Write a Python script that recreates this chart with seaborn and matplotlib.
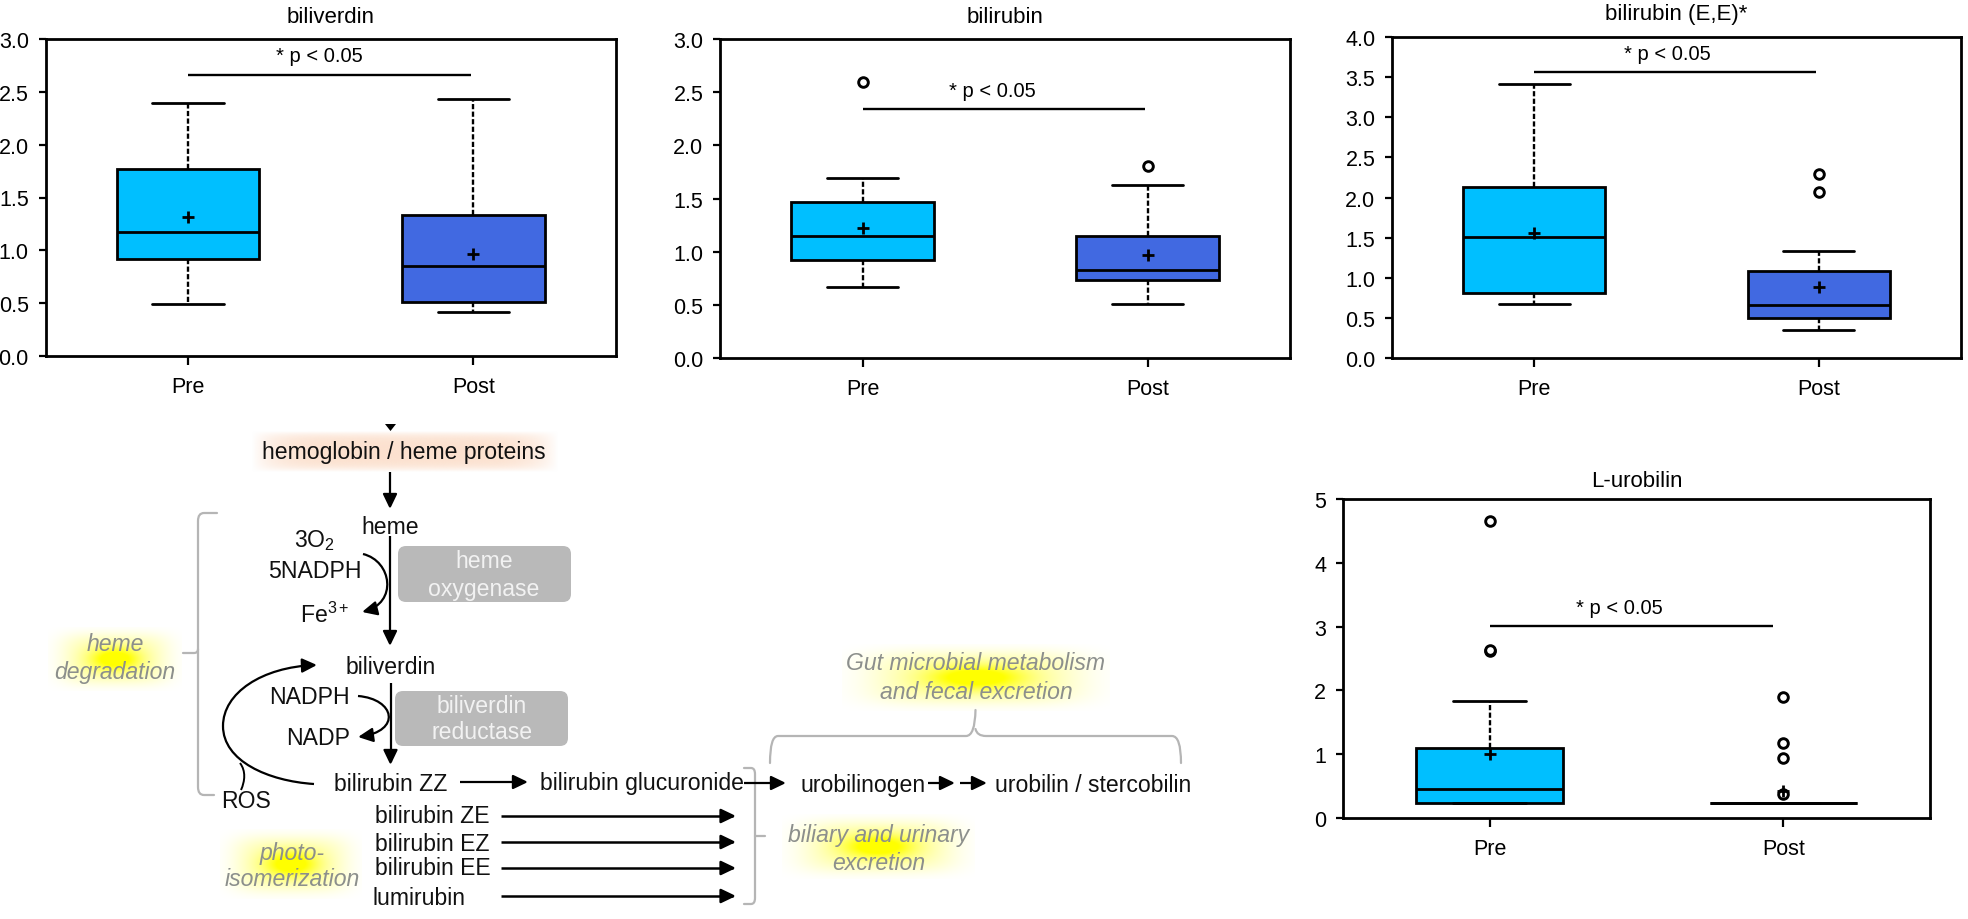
import numpy as np
import pandas as pd
import matplotlib
matplotlib.use("Agg")
import matplotlib.pyplot as plt
from matplotlib.patches import FancyArrowPatch, FancyBboxPatch, PathPatch, Polygon
from matplotlib.path import Path
import seaborn as sns

# ---------- data ----------
CATEGORIES = ["Pre", "Post"]
COLORS = ["#00bfff", "#4169e1"]

# low whisker, Q1, median, Q3, high whisker
biliverdin_pre = [0.49, 0.915, 1.17, 1.765, 2.39]
biliverdin_post = [0.42, 0.515, 0.85, 1.33, 2.43]
biliverdin_means = [1.32, 0.965]
biliverdin_out_pre = []
biliverdin_out_post = []

bilirubin_pre = [0.665, 0.92, 1.145, 1.47, 1.695]
bilirubin_post = [0.51, 0.73, 0.825, 1.15, 1.63]
bilirubin_means = [1.225, 0.965]
bilirubin_out_pre = [2.60]
bilirubin_out_post = [1.81]

bilirubin_ee_pre = [0.67, 0.805, 1.51, 2.13, 3.42]
bilirubin_ee_post = [0.345, 0.50, 0.66, 1.09, 1.335]
bilirubin_ee_means = [1.56, 0.89]
bilirubin_ee_out_pre = []
bilirubin_ee_out_post = [2.07, 2.29]

urobilin_pre = [0.235, 0.235, 0.45, 1.09, 1.835]
urobilin_post = [0.235, 0.235, 0.235, 0.235, 0.235]
urobilin_means = [1.01, 0.43]
urobilin_out_pre = [2.62, 2.64, 4.65]
urobilin_out_post = [0.37, 0.945, 1.18, 1.89]

TITLES = ["biliverdin", "bilirubin", "bilirubin (E,E)*", "L-urobilin"]
P_LABEL = "* p < 0.05"
YTICKS_05 = [0.0, 0.5, 1.0, 1.5, 2.0, 2.5, 3.0]
YTICKS_EE = [0.0, 0.5, 1.0, 1.5, 2.0, 2.5, 3.0, 3.5, 4.0]
YTICKS_URO = [0, 1, 2, 3, 4, 5]
BAR_HEIGHTS = [2.655, 2.345, 3.565, 3.015]

# ---------- style ----------
W, H = 1968, 920
sns.set_theme(style="ticks", rc={"axes.linewidth": 2.0})
plt.rcParams["font.family"] = ["Liberation Sans", "DejaVu Sans"]
plt.rcParams["mathtext.fontset"] = "custom"
plt.rcParams["mathtext.rm"] = "Liberation Sans"
plt.rcParams["mathtext.it"] = "Liberation Sans:italic"

fig = plt.figure(figsize=(W / 100, H / 100), dpi=100, facecolor="white")


def add_axes_px(left, right, top, bottom):
    return fig.add_axes([left / W, 1 - bottom / H, (right - left) / W, (bottom - top) / H])


def draw_panel(ax, pre, post, means, out_pre, out_post, title, yticks, ymax, bar_y,
               bar_x, label_x, label_y, title_pad):
    df = pd.DataFrame({
        "group": [CATEGORIES[0]] * len(pre) + [CATEGORIES[1]] * len(post),
        "value": list(pre) + list(post),
    })
    sns.boxplot(
        data=df, x="group", y="value", hue="group", order=CATEGORIES, hue_order=CATEGORIES,
        palette=COLORS, width=0.5, whis=(0, 100), dodge=False, legend=False, saturation=1,
        linecolor="black", linewidth=1.9, showfliers=False, ax=ax,
        whiskerprops={"linestyle": (0, (2.2, 1.0)), "linewidth": 1.7},
        capprops={"linewidth": 2.0},
        medianprops={"linewidth": 2.0, "color": "black"},
        boxprops={"linewidth": 2.0},
    )
    # mean markers
    sns.scatterplot(x=[0, 1], y=means, marker="+", s=85, color="black", linewidth=2.0,
                    ax=ax, zorder=6, legend=False)
    # outliers
    ox = [0] * len(out_pre) + [1] * len(out_post)
    oy = list(out_pre) + list(out_post)
    if oy:
        sns.scatterplot(x=ox, y=oy, marker="o", s=48, facecolor="white", edgecolor="black",
                        linewidth=2.1, ax=ax, zorder=5, legend=False)
    ax.plot(bar_x, [bar_y, bar_y], color="black", lw=1.7, solid_capstyle="butt", zorder=4)
    ax.text(label_x, label_y, P_LABEL, ha="center", va="center", fontsize=14.5, color="black")
    ax.set_xlim(-0.5, 1.5)
    ax.set_ylim(0, ymax)
    ax.set_yticks(yticks)
    if isinstance(yticks[1], float):
        ax.set_yticklabels([f"{v:.1f}" for v in yticks])
    ax.set_xlabel("")
    ax.set_ylabel("")
    ax.set_title(title, fontsize=16, color="black", pad=title_pad)
    ax.tick_params(axis="y", length=5, width=1.6, pad=7, labelsize=15.5, colors="black")
    ax.tick_params(axis="x", length=6.5, width=1.6, pad=8, labelsize=15.5, colors="black")
    for s in ax.spines.values():
        s.set_visible(True)
        s.set_linewidth(2.0)
        s.set_color("black")


ax1 = add_axes_px(45.5, 616, 40, 357)
draw_panel(ax1, biliverdin_pre, biliverdin_post, biliverdin_means, biliverdin_out_pre,
           biliverdin_out_post, TITLES[0], YTICKS_05, 3.0, BAR_HEIGHTS[0], [0, 0.99], 0.46, 2.84, 12)
ax2 = add_axes_px(720, 1290, 40, 359)
draw_panel(ax2, bilirubin_pre, bilirubin_post, bilirubin_means, bilirubin_out_pre,
           bilirubin_out_post, TITLES[1], YTICKS_05, 3.0, BAR_HEIGHTS[1], [0, 0.99], 0.455, 2.52, 12)
ax3 = add_axes_px(1392, 1961, 38, 359)
draw_panel(ax3, bilirubin_ee_pre, bilirubin_ee_post, bilirubin_ee_means, bilirubin_ee_out_pre,
           bilirubin_ee_out_post, TITLES[2], YTICKS_EE, 4.0, BAR_HEIGHTS[2], [0, 0.99], 0.467, 3.80, 13)
ax4 = add_axes_px(1343, 1930, 500, 819)
draw_panel(ax4, urobilin_pre, urobilin_post, urobilin_means, urobilin_out_pre,
           urobilin_out_post, TITLES[3], YTICKS_URO, 5.0, BAR_HEIGHTS[3], [0, 0.965], 0.44, 3.3, 9)

# ---------- pathway diagram drawn in an overlay in pixel space ----------
ov = fig.add_axes([0, 0, 1, 1], facecolor="none", zorder=-1)
ov.set_xlim(0, W)
ov.set_ylim(H, 0)
ov.axis("off")


def glow(x0, x1, y0, y1, rgb, core=1.0, flat=False):
    yy, xx = np.mgrid[-1:1:120j, -1:1:200j]
    if flat:
        a = np.clip((1 - np.abs(xx) ** 6), 0, 1) * np.clip((1 - np.abs(yy) ** 4), 0, 1) * core
    else:
        r2 = xx ** 2 + yy ** 2
        a = core * (0.95 * np.exp(-r2 / 0.13) + 0.32 * np.exp(-(xx ** 4 + yy ** 4) / 0.4))
        a = np.clip(a, 0, 1)
    img = np.zeros(a.shape + (4,))
    img[..., :3] = matplotlib.colors.to_rgb(rgb)
    img[..., 3] = a
    ov.imshow(img, extent=(x0, x1, y1, y0), aspect="auto", zorder=0, interpolation="bilinear")


glow(251, 559, 432, 473, "#fce0cd", core=0.95, flat=True)
glow(48, 182, 628, 692, "#ffff00")
glow(220, 362, 830, 900, "#ffff00")
glow(842, 1110, 645, 712, "#ffff00")
glow(782, 975, 815, 880, "#ffff00")
ov.set_xlim(0, W)
ov.set_ylim(H, 0)

GREY_TXT = "#8c8f8c"
BLK = "#111111"
FS = 16.6
for x, y, s in [
    (404, 453, "hemoglobin / heme proteins"), (390.5, 528, "heme"), (315, 541, "3O$_2$"),
    (315, 572, "5NADPH"), (325, 615, "Fe$^{3+}$"), (391, 668, "biliverdin"),
    (309, 698, "NADPH"), (318, 739, "NADP"), (391, 785, "bilirubin ZZ"),
    (642, 784, "bilirubin glucuronide"), (246, 802, "ROS"), (863, 786, "urobilinogen"),
    (1093, 786, "urobilin / stercobilin"),
]:
    ov.text(x, y, s, fontsize=FS, color=BLK, ha="center", va="center", zorder=4)
for x, y, s in [(375, 817, "bilirubin ZE"), (375, 845, "bilirubin EZ"),
                (375, 869, "bilirubin EE"), (373, 899, "lumirubin")]:
    ov.text(x, y, s, fontsize=FS, color=BLK, ha="left", va="center", zorder=4)
for x, y, s in [
    (115, 645, "heme"), (115, 673, "degradation"), (292, 854, "photo-"),
    (292, 880, "isomerization"), (976, 664, "Gut microbial metabolism"),
    (976, 693, "and fecal excretion"), (879, 836, "biliary and urinary"), (879, 864, "excretion"),
]:
    ov.text(x, y, s, fontsize=FS, color=GREY_TXT, style="italic", ha="center", va="center", zorder=4)

# enzyme boxes
for x0, x1, y0, y1, lines in [
    (398, 571, 547, 603, [(484, 562, "heme"), (484, 590, "oxygenase")]),
    (395, 568, 692, 747, [(482, 707, "biliverdin"), (482, 733, "reductase")]),
]:
    ov.add_patch(FancyBboxPatch((x0 + 6, y0 + 6), x1 - x0 - 12, y1 - y0 - 12,
                                boxstyle="round,pad=6,rounding_size=8", fc="#b9b9b9", ec="none", zorder=2))
    for x, y, s in lines:
        ov.text(x, y, s, fontsize=FS, color="#f2f2f2", ha="center", va="center", zorder=4)


def arrow(verts, codes=None, lw=1.6, head=(0.75, 0.36), scale=12):
    p = Path(verts, codes) if codes else Path(verts)
    ov.add_patch(FancyArrowPatch(
        path=p, arrowstyle=f"-|>,head_length={head[0]},head_width={head[1]}",
        mutation_scale=scale, lw=lw, color="black", zorder=3, capstyle="butt"))


CUB = [Path.MOVETO, Path.CURVE4, Path.CURVE4, Path.CURVE4]
# cropped arrow head at the very top of the pathway
ov.add_patch(Polygon([(385, 425), (396, 425), (390.5, 432)], closed=True, fc="black", ec="none", zorder=3))
# straight arrows
arrow([(390, 473), (390, 510)])
arrow([(390, 537), (390, 647)])
arrow([(390.5, 684), (390.5, 766)])
arrow([(460, 783), (528, 783)])
for y in [817, 843, 869, 897]:
    arrow([(501, y), (736, y)], lw=1.8)
arrow([(744, 784), (786, 784)])
arrow([(928, 784), (955, 784)])
arrow([(960, 784), (987, 784)])
# cofactor curves
arrow([(363, 555), (392, 562), (398, 604), (362, 613)], CUB)
arrow([(358, 697), (395, 700), (402, 732), (358, 738)], CUB)
# ROS loop as one smooth path
arrow([(314, 785), (268, 782), (223, 762), (223, 727), (223, 694), (262, 668), (317, 666)],
      [Path.MOVETO] + [Path.CURVE4] * 6)
ov.add_patch(PathPatch(Path([(240, 764), (246, 772), (245, 782), (241, 791)],
                            CUB), fc="none", ec="black", lw=1.4, zorder=3))

# grey brackets
BR = "#b5b5b5"
LINE = Path.LINETO
CRV = Path.CURVE3
M = Path.MOVETO


def bracket(verts, codes):
    ov.add_patch(PathPatch(Path(verts, codes), fc="none", ec=BR, lw=1.6, zorder=1, capstyle="round"))


bracket([(217, 514), (204, 514), (198, 514), (198, 522), (198, 788), (198, 796), (204, 796), (214, 796)],
        [M, LINE, CRV, CRV, LINE, CRV, CRV, LINE])
bracket([(183, 654), (194, 654), (198, 654), (198, 650)], [M, LINE, CRV, CRV])
bracket([(744, 769), (751, 769), (755, 769), (755, 775), (755, 899), (755, 905), (751, 905), (744, 905)],
        [M, LINE, CRV, CRV, LINE, CRV, CRV, LINE])
bracket([(755, 837), (765, 837)], [M, LINE])
bracket([(770, 764), (770, 737), (778, 737), (966, 737), (975, 737), (975.5, 711), (975.5, 730), (977, 737),
         (986, 737), (1172, 737), (1181, 737), (1181, 764)],
        [M, CRV, CRV, LINE, CRV, CRV, M, CRV, CRV, LINE, CRV, CRV])

fig.savefig("out.png", dpi=100, facecolor="white")
